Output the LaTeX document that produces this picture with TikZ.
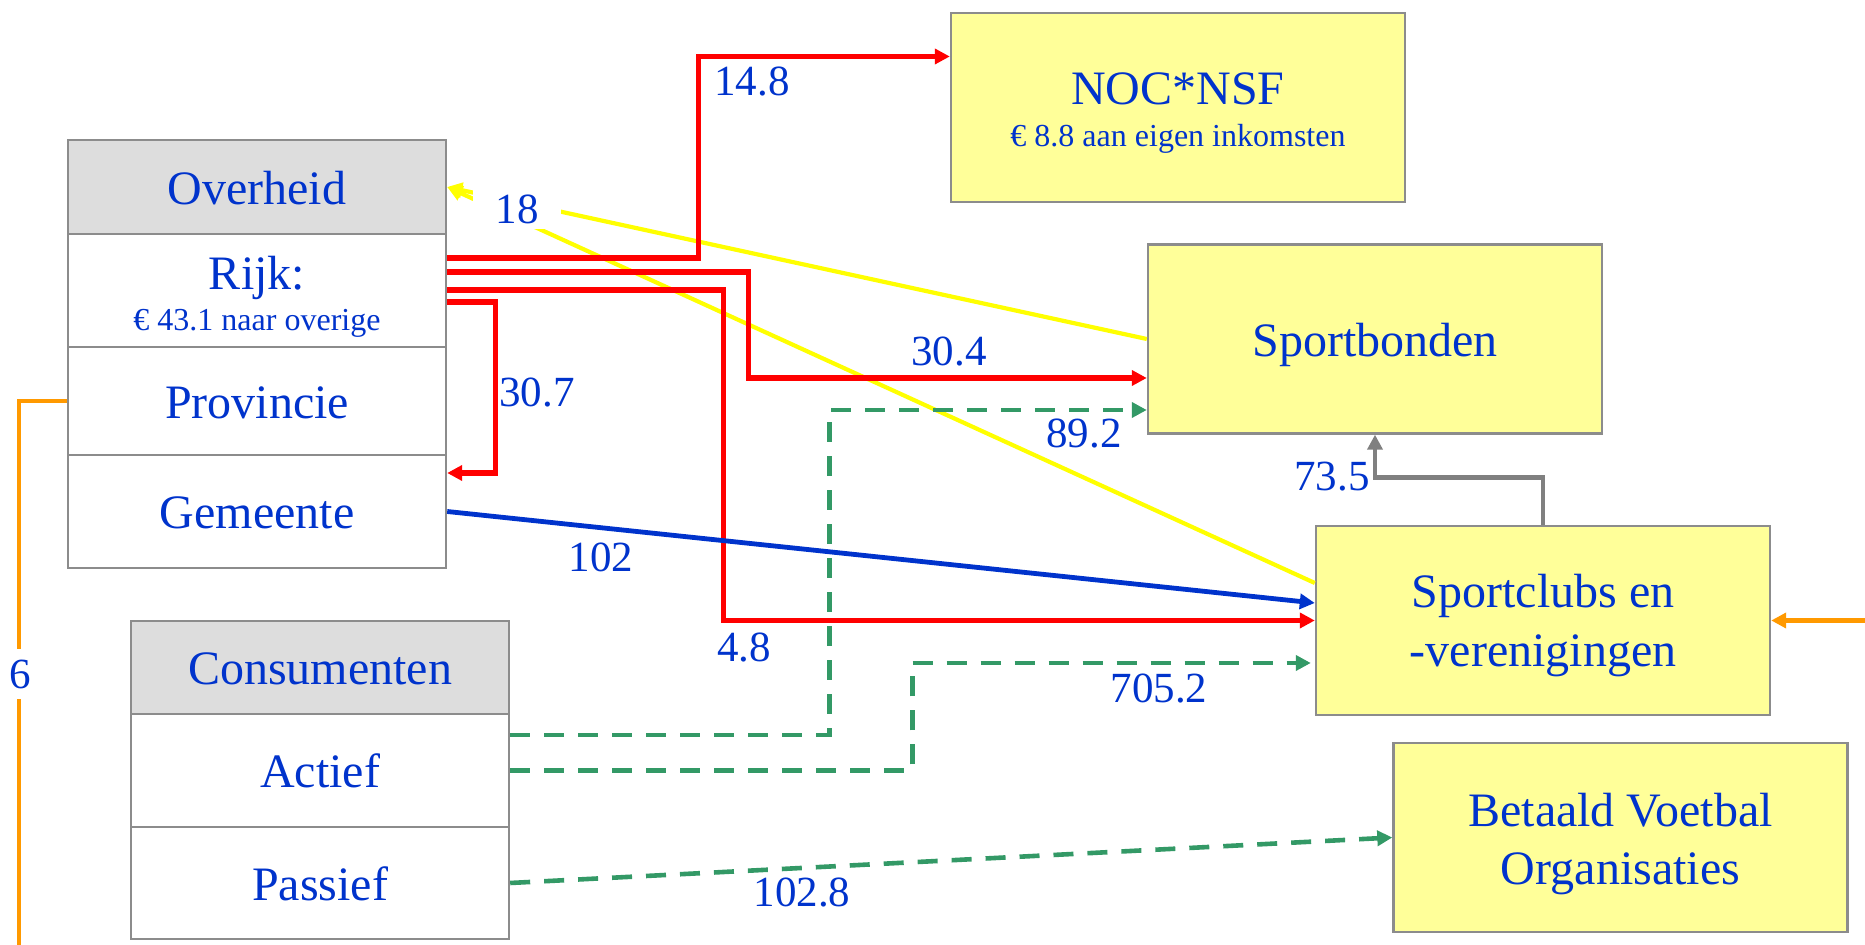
\documentclass[tikz,border=0pt]{standalone}
\usepackage{fontspec}
\setmainfont{Liberation Serif}
\usetikzlibrary{arrows.meta,calc}
\definecolor{txtblue}{HTML}{0033CC}
\definecolor{boxyellow}{HTML}{FFFF99}
\definecolor{headgray}{HTML}{DDDDDD}
\definecolor{boxgray}{HTML}{8C8C8C}
\definecolor{flowred}{HTML}{FF0000}
\definecolor{flowyellow}{HTML}{FFFF00}
\definecolor{flowgreen}{HTML}{339966}
\definecolor{flowgray}{HTML}{808080}
\definecolor{floworange}{HTML}{FF9900}
\definecolor{flowblue}{HTML}{0033CC}
\begin{document}
\begin{tikzpicture}[x=0.5pt,y=-0.5pt,
  cell/.style={draw=boxgray, line width=1.2pt, fill=white, minimum width=189pt, inner sep=0pt,
    text=txtblue, font=\fontsize{24}{29}\selectfont, text height=17.5pt, text depth=0pt},
  headcell/.style={cell, fill=headgray},
  ybox/.style={cell, fill=boxyellow, minimum width=227pt, minimum height=94.5pt},
  maintext/.style={text=txtblue, font=\fontsize{24}{29}\selectfont, inner sep=0pt, anchor=base},
  subtext/.style={text=txtblue, font=\fontsize{16}{19}\selectfont, inner sep=0pt, anchor=base},
  num/.style={text=txtblue, font=\fontsize{21.5}{26}\selectfont, inner sep=0pt},
  tip/.style={-{Triangle[length=7.5pt,width=7.5pt]}},
  redflow/.style={tip, draw=flowred, line width=2.6pt},
  yflow/.style={tip, draw=flowyellow, line width=2.1pt},
  bflow/.style={tip, draw=flowblue, line width=2.4pt},
  gflow/.style={tip, draw=flowgreen, line width=2.3pt, dash pattern=on 10pt off 7pt},
  grayflow/.style={tip, draw=flowgray, line width=2.4pt},
  oflow/.style={draw=floworange, line width=2.2pt}
]
\useasboundingbox (0,0) rectangle (1865,945);

% Overheid group
\node[headcell, minimum height=47pt] (ovh) at (257,187) {Overheid};
\node[cell, minimum height=56.5pt] (rijk) at (257,290.5) {};
\node[cell, minimum height=54pt] (prov) at (257,401) {Provincie};
\node[cell, minimum height=56.5pt] (gem) at (257,511.5) {Gemeente};
\node[maintext] (rijkT) at (257,290) {Rijk:};
\node[subtext] (rijkS) at (257,331) {€ 43.1 naar overige};

% Consumenten group
\node[headcell, minimum height=46.5pt] (cons) at (320,667.5) {Consumenten};
\node[cell, minimum height=56.5pt] (act) at (320,770.5) {Actief};
\node[cell, minimum height=56pt] (pas) at (320,883) {Passief};

% Yellow boxes
\node[ybox] (noc) at (1178,107.5) {};
\node[maintext] (nocT) at (1178,105) {NOC*NSF};
\node[subtext] (nocS) at (1178,147) {€ 8.8 aan eigen inkomsten};
\node[ybox] (sbond) at (1375,339) {Sportbonden};
\node[ybox] (sclub) at (1543,620.5) {};
\node[maintext] (sclubT1) at (1543,608) {Sportclubs en};
\node[maintext] (sclubT2) at (1543,667) {-verenigingen};
\node[ybox] (bvo) at (1620.5,837.5) {};
\node[maintext] (bvoT1) at (1620.5,827) {Betaald Voetbal};
\node[maintext] (bvoT2) at (1620.5,885) {Organisaties};

% yellow flows
\draw[yflow] (sbond.west) -- (ovh.east);
\draw[yflow] ($(sclub.west)+(0,-37.5)$) -- (ovh.east);

% red flows
\draw[redflow] ($(rijk.east)+(0,-32.5)$) -- ++(251,0) |- ($(noc.west)+(0,-51)$);
\draw[redflow] ($(rijk.east)+(0,-18.5)$) -- ++(301,0) |- ($(sbond.west)+(0,39)$);
\draw[redflow] ($(rijk.east)+(0,-0.5)$) -- ++(276,0) |- (sclub.west);
\draw[redflow] ($(rijk.east)+(0,11.5)$) -- ++(48,0) |- ($(gem.east)+(0,-38.5)$);

% blue flow
\draw[bflow] (gem.east) -- ($(sclub.west)+(0,-17.5)$);

% green dashed flows
\draw[gflow] ($(act.east)+(0,-35.5)$) -- ++(319,0) |- ($(sbond.west)+(0,71)$);
\draw[gflow] (act.east) -- ++(402,0) |- ($(sclub.west)+(-4,42.5)$);
\draw[gflow] (pas.east) -- (bvo.west);

% gray flow
\draw[grayflow] (sclub.north) -- ++(0,-47) -| (sbond.south);

% orange flows
\coordinate (obot) at (19,945);
\coordinate (oright) at (1865,620.5);
\draw[oflow] (prov.west) -| (obot);
\draw[oflow, tip] (oright) -- (sclub.east);

% labels
\node[num] (l148) at (752,82) {14.8};
\node[num] (l304) at (949,352) {30.4};
\node[num] (l48) at (744,648) {4.8};
\node[num] (l307) at (537,393) {30.7};
\node[num, fill=white, minimum width=44pt, minimum height=20pt] (l18) at (517,209) {18};
\node[num] (l102) at (601,557) {102};
\node[num] (l892) at (1084,434) {89.2};
\node[num] (l7052) at (1159,689) {705.2};
\node[num] (l1028) at (802,893) {102.8};
\node[num] (l735) at (1332,477) {73.5};
\node[num, fill=white, minimum height=25pt, inner xsep=1pt] (l6) at (20,674) {6};
\end{tikzpicture}
\end{document}
